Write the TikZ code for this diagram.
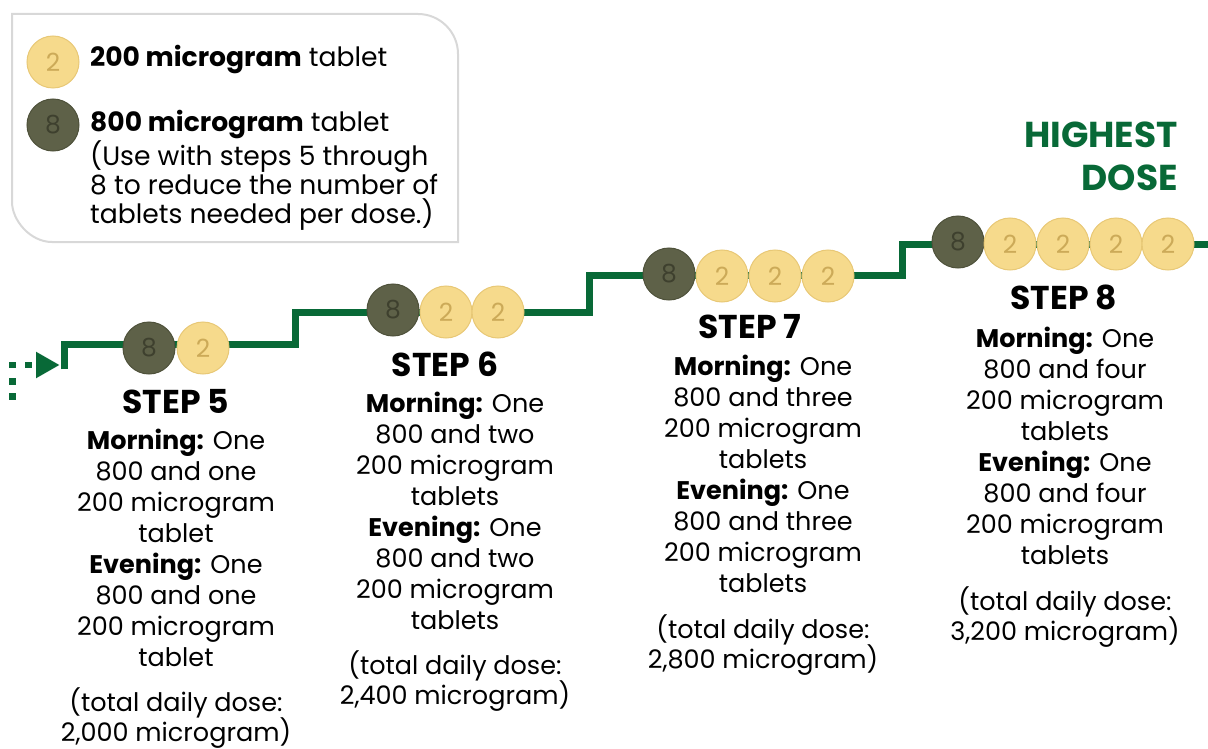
\documentclass[tikz,border=0pt]{standalone}
\usepackage{fontspec}
\setmainfont{Poppins}
\definecolor{dgreen}{RGB}{8,105,55}
\definecolor{ylw}{RGB}{246,218,140}
\definecolor{ylwrim}{RGB}{232,200,118}
\definecolor{ylwtxt}{RGB}{204,170,88}
\definecolor{drk}{RGB}{94,97,72}
\definecolor{drkrim}{RGB}{78,81,58}
\definecolor{drktxt}{RGB}{62,64,46}
\definecolor{boxgray}{RGB}{216,216,216}
\begin{document}
\begin{tikzpicture}[x=1pt,y=-1pt,
  body/.style={anchor=base, inner sep=0pt, font=\fontsize{25.5}{30}\selectfont},
  legtext/.style={anchor=base west, inner sep=0pt, font=\fontsize{26.6}{30}\selectfont},
  stephead/.style={anchor=base, inner sep=0pt, font=\fontsize{33}{38}\selectfont\bfseries},
  hightext/.style={anchor=base east, inner sep=0pt, text=dgreen, font=\fontsize{36}{42}\selectfont\bfseries},
  pillbase/.style={circle, minimum size=52pt, inner sep=0pt, line width=1pt, font=\fontsize{25}{25}\selectfont},
  pilly/.style={pillbase, fill=ylw, draw=ylwrim, text=ylwtxt},
  pilld/.style={pillbase, fill=drk, draw=drkrim, text=drktxt},
  stair/.style={draw=dgreen, line width=7pt, line join=miter},
  dotsq/.style={fill=dgreen}
]
\useasboundingbox (0,0) rectangle (1208,749);

% legend box
\draw[boxgray, line width=2pt] (12,14) -- (418,14) .. controls (440,14) and (458,32) .. (458,54)
  -- (458,242) -- (52,242) .. controls (30,242) and (12,220) .. (12,202) -- cycle;
\node[pilly] (ly) at (53,62) {2};
\node[pilld] (ld) at (53,125) {8};
\node[legtext] (lt1) at (90,67) {\textbf{200 microgram} tablet};
\node[legtext] (lt2) at (90,132) {\textbf{800 microgram} tablet};
\node[legtext] (lt3) at (90,166) {(Use with steps 5 through};
\node[legtext] (lt4) at (90,194.5) {8 to reduce the number of};
\node[legtext] (lt5) at (90,223) {tablets needed per dose.)};

% highest dose
\node[hightext] (h1) at (1178,148) {HIGHEST};
\node[hightext] (h2) at (1178,190) {DOSE};

% start marker
\fill[dotsq] (9.2,393.3) rectangle (15.9,400);
\fill[dotsq] (9.2,378.3) rectangle (15.9,385);
\fill[dotsq] (9.2,361.7) rectangle (15.9,368.3);
\fill[dotsq] (25,361.7) rectangle (31.7,368.3);
\fill[dgreen] (36,351.7) -- (59.3,365) -- (36,378.3) -- cycle;

% staircase
\coordinate (c0) at (64.5,369.3);
\coordinate (c1) at (64.5,344.5);
\coordinate (c2) at (295.5,344.5);
\coordinate (c3) at (295.5,312);
\coordinate (c4) at (589.5,312);
\coordinate (c5) at (589.5,275.5);
\coordinate (c6) at (902,275.5);
\coordinate (c7) at (902,244.5);
\coordinate (c8) at (1212,244.5);
\draw[stair] (c0) -- (c1) -- (c2) -- (c3) -- (c4) -- (c5) -- (c6) -- (c7) -- (c8);

% pills
\node[pilld] (p5a) at (149,348) {8};
\node[pilly] (p5b) at (203,348) {2};

\node[pilld] (p6a) at (393,310) {8};
\node[pilly] (p6b) at (446,312) {2};
\node[pilly] (p6c) at (498,312) {2};

\node[pilld] (p7a) at (669,274) {8};
\node[pilly] (p7b) at (722,276) {2};
\node[pilly] (p7c) at (775,276) {2};
\node[pilly] (p7d) at (828,276) {2};

\node[pilld] (p8a) at (958,242) {8};
\node[pilly] (p8b) at (1010,244) {2};
\node[pilly] (p8c) at (1063,244) {2};
\node[pilly] (p8d) at (1116,244) {2};
\node[pilly] (p8e) at (1168,244) {2};

% step headings
\node[stephead] (s5) at (176,413) {STEP 5};
\node[stephead] (s6) at (445,376) {STEP 6};
\node[stephead] (s7) at (750,338) {STEP 7};
\node[stephead] (s8) at (1064,309) {STEP 8};

% step 5 body
\foreach \t [count=\i from 0] in {{\textbf{Morning:} One},{800 and one},{200 microgram},{tablet},{\textbf{Evening:} One},{800 and one},{200 microgram},{tablet}}
  \node[body, name=b5\i] at (176,{449+\i*31.1}) {\t};
\node[body] (t5a) at (176,711.7) {(total daily dose:};
\node[body] (t5b) at (176,741.7) {2,000 microgram)};

% step 6 body
\foreach \t [count=\i from 0] in {{\textbf{Morning:} One},{800 and two},{200 microgram},{tablets},{\textbf{Evening:} One},{800 and two},{200 microgram},{tablets}}
  \node[body, name=b6\i] at (455,{412+\i*31.1}) {\t};
\node[body] (t6a) at (455,674.7) {(total daily dose:};
\node[body] (t6b) at (455,704.7) {2,400 microgram)};

% step 7 body
\foreach \t [count=\i from 0] in {{\textbf{Morning:} One},{800 and three},{200 microgram},{tablets},{\textbf{Evening:} One},{800 and three},{200 microgram},{tablets}}
  \node[body, name=b7\i] at (763,{375+\i*31.1}) {\t};
\node[body] (t7a) at (763,638.7) {(total daily dose:};
\node[body] (t7b) at (763,668.7) {2,800 microgram)};

% step 8 body
\foreach \t [count=\i from 0] in {{\textbf{Morning:} One},{800 and four},{200 microgram},{tablets},{\textbf{Evening:} One},{800 and four},{200 microgram},{tablets}}
  \node[body, name=b8\i] at (1065,{347+\i*31.1}) {\t};
\node[body] (t8a) at (1065,610.7) {(total daily dose:};
\node[body] (t8b) at (1065,640.7) {3,200 microgram)};
\end{tikzpicture}
\end{document}
